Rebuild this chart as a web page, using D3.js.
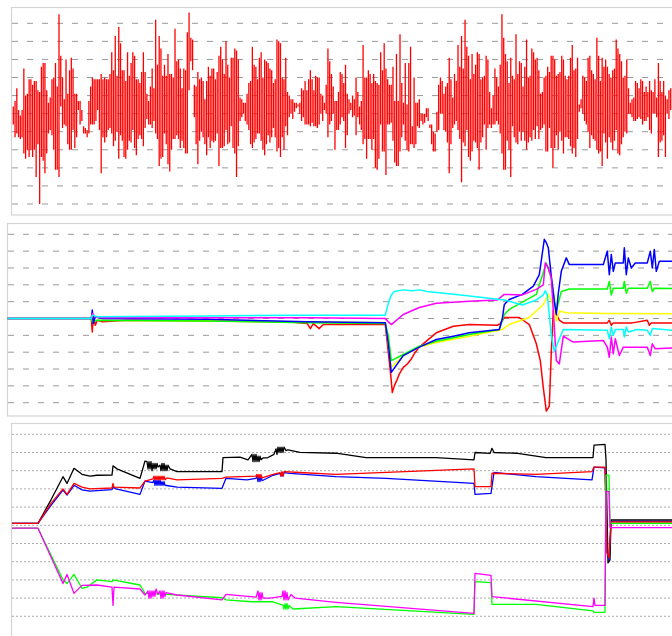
<!DOCTYPE html>
<html><head><meta charset="utf-8">
<script src="https://cdn.jsdelivr.net/npm/d3@7"></script>
<style>body{margin:0;background:#fff;overflow:hidden}</style>
</head><body>
<script>
// ---------- DATA ----------
const gridLevels = [-50,-40,-30,-20,-10,0,10,20,30,40,50];

// Panel 1: waveform, per-sample high / low
const waveHigh = [
4,7,14,2,-1,2,25,10,11,19,19,16,18,18,13,12,26,28,28,13,6,9,19,20,28,15,55,32,20,8,30,11,24,31,25,11,11,7,7,2,-7,-8,-9,7,15,20,19,19,19,19,22,19,20,19,19,22,34,24,43,21,48,39,
24,24,18,34,21,28,34,32,19,19,17,23,34,23,11,7,15,25,14,52,27,43,36,21,27,21,33,22,22,20,47,29,30,25,14,25,24,45,56,42,41,16,15,23,19,20,18,8,18,26,21,25,25,19,23,32,37,30,22,40,27,20,
31,31,36,35,30,9,8,6,6,11,17,18,37,27,26,19,31,34,20,30,29,28,25,24,17,19,41,40,39,20,19,31,12,10,8,8,6,6,5,6,14,13,18,13,19,24,19,13,21,20,20,11,10,6,16,36,29,22,15,7,7,12,23,22,
17,27,11,8,6,10,8,20,12,4,7,38,20,20,24,22,17,22,18,17,16,34,24,39,25,19,16,16,26,7,33,7,44,17,6,28,5,28,37,-7,20,6,6,8,0,0,0,3,3,-6,-6,-10,-11,1,16,20,18,11,15,17,31,19,
9,22,18,38,26,43,25,52,37,32,19,33,22,27,34,33,19,20,21,32,30,12,3,10,25,20,15,27,55,42,33,29,17,31,21,19,44,22,29,28,15,26,41,20,21,36,34,30,31,24,11,12,20,21,26,23,32,32,30,21,22,23,
32,30,21,19,21,31,38,24,25,31,5,8,21,20,18,31,32,24,22,19,42,32,18,31,26,30,26,22,20,24,25,41,36,33,29,20,21,30,14,6,8,9,18,17,14,19,18,12,15,12,18,13,12,19,9,28,18,12,18,10,8,13,14];
const waveLow = [
-6,-13,-11,-13,-14,-13,-22,-25,-20,-24,-20,-24,-20,-35,-17,-50,-24,-26,-33,-22,-11,-9,-12,-20,-31,-31,-35,4,-8,-6,-7,-17,-20,-20,-9,-19,-13,2,-6,-4,-11,-11,-13,-11,-6,-6,-6,-4,2,-9,-33,-13,-16,-13,-9,-8,-11,-18,-15,-10,-25,-12,
-15,-24,-25,-20,-15,-16,-9,-19,-23,-14,-12,-14,-18,-8,-3,-6,-6,-8,-4,-11,-14,-29,-25,-24,-11,-17,-28,-32,-20,-14,-14,-12,-14,-19,-15,-19,-22,-22,13,29,24,-2,-17,-28,-15,-10,-13,-17,-23,-13,-19,-15,-16,-15,-11,-29,-19,-19,-18,-9,-17,-16,
-7,-19,-22,-35,-18,-4,-2,0,-4,-6,-9,-17,-19,-16,-14,-11,-11,-15,-20,-23,-17,-12,-16,-13,-8,-13,-21,-19,-24,-13,-20,-7,-12,-2,0,-3,1,3,4,0,-4,-2,-6,-6,-6,-7,-5,-7,-7,-8,-6,0,-4,2,0,-13,-6,-4,0,-20,-9,-9,-6,-2,
-4,-19,-12,0,2,-2,-1,-12,-2,-6,-9,-17,-14,-25,-14,-14,-20,-14,-30,-31,-25,-6,-21,-21,-34,-6,-6,-5,-15,-27,-29,-29,-21,-13,-6,-15,-20,-21,-17,-17,-19,-17,-7,-8,-4,-6,-5,-2,-4,-8,-17,-21,-21,-10,-9,0,0,-9,-10,-16,-33,-17,
-8,-6,-4,-9,-14,-38,-16,-18,-9,-24,-26,-21,-15,-16,-19,-31,-16,-13,-6,-20,-8,-6,-8,-6,-6,-4,-6,-11,-22,-31,-31,-15,-20,-35,-7,-13,-16,-17,-10,-15,-10,-15,-20,-16,-13,-15,-9,-14,-7,-14,-9,-8,-6,-21,-21,-8,-19,-30,-19,-12,-20,-10,
-15,-22,-13,-13,-14,-18,-22,-19,-24,-14,1,3,0,-4,-6,-10,-19,-12,-14,-15,-20,-22,-21,-29,-11,-16,-25,-13,-16,-20,-15,-9,-22,-23,-17,-13,-10,-11,0,0,-2,-4,-4,-3,-2,-3,-6,-4,-4,-2,-9,-11,0,0,-2,-24,-16,-15,-12,-24,0,-3,2];

// Panel 2: six series, [sample, value]
const p2Red = [[0,0],[84,0],[85,-8],[86,2],[88,-4],[90,-1],[95,-2],[120,-1],[200,-1.5],[280,-2],[300,-3],[303,-6],[306,-3],[312,-6],[316,-3.5],[330,-3.5],[378,-3.6],[381,-20],[384,-37],[385,-44],[387,-40],[390,-36],[392,-33],[394,-31],[396,-29],[400,-27],[404,-24],[408,-20],[412,-17],[420,-13],[429,-8.5],[446,-4.6],[462,-3.6],[490,-4],[493,-3],[497,0.6],[512,0.6],[522,-3.6],[529,-15],[533,-25],[536,-41],[539,-55],[542,-52],[544,-20],[546,5],[549,3],[552,-1],[556,-2.6],[600,-2.6],[602,-1],[604,-4],[606,-2.6],[625,-2.6],[640,-1],[642,-4],[644,-2.6],[665,-2.6]];
const p2Blue = [[0,0],[84,0],[85,5],[86,-3],[88,1],[95,0],[200,-0.5],[300,-2],[378,-2.5],[381,-15],[384,-32],[396,-22],[412,-17],[429,-12.5],[446,-10.5],[462,-8.5],[492,-6.5],[495,0],[497,8.3],[502,11.3],[515,14.3],[526,19.2],[532,26],[537,47],[539,45],[541,42],[544,25],[547,10],[549,2.4],[551,15],[554,28],[559,36],[562,32],[596,32],[600,40],[602,26],[604,38],[606,28],[608,33],[616,33],[617,42],[619,26],[621,36],[624,30],[628,33],[640,33],[643,40],[645,30],[647,41],[649,28],[652,34],[665,34]];
const p2Green = [[0,0],[84,0],[85,-2],[90,-1],[200,-1.5],[300,-2.5],[378,-3],[381,-10],[384,-25],[396,-21.4],[412,-16.5],[429,-13.5],[462,-9.5],[492,-6.5],[497,2.4],[502,5.4],[529,14.3],[539,33],[544,24],[549,4.4],[554,16],[562,17.5],[600,17.5],[602,22],[604,14],[606,18],[616,18],[617,22],[619,15],[621,18],[640,18],[643,22],[645,16],[647,18],[665,17.8]];
const p2Yellow = [[0,0],[84,0],[85,-1],[200,-1.5],[300,-2],[378,-2.5],[381,-15],[384,-29],[396,-22],[412,-17],[429,-14.3],[462,-10.5],[495,-6.5],[502,-3.6],[522,0.6],[536,8.3],[541,14.3],[546,8],[549,-1.6],[552,4.4],[559,3.4],[600,3],[665,2.8]];
const p2Cyan = [[0,0],[84,0],[85,2],[90,1],[200,1.5],[300,2],[378,2],[381,9],[384,14],[387,16],[396,17],[405,16.5],[412,17],[420,16],[460,13.5],[497,11],[515,8],[529,11],[536,14],[538,16.5],[540,14],[544,-10],[547,-19.5],[550,-15],[556,-6.5],[600,-7],[602,-12],[604,-5],[606,-10],[608,-6.5],[616,-6.5],[617,-11],[619,-5],[621,-8],[630,-6.5],[640,-7],[643,-10],[645,-6],[665,-7]];
const p2Magenta = [[0,0],[84,0],[85,3],[88,1],[95,0.5],[300,0.5],[378,0],[381,-2],[384,-3.6],[396,2.4],[412,6.5],[429,9],[462,10.3],[490,11],[497,14.3],[515,14],[529,17.3],[536,20],[538,33],[541,30],[544,24],[547,-5],[549,-25],[552,-27],[556,-10.5],[560,-12],[566,-14],[596,-13],[600,-17],[602,-23],[604,-11],[606,-21],[608,-12],[612,-22],[616,-17],[640,-17],[643,-22],[645,-15],[648,-18],[665,-17.5]];

// Panel 3: five series, [sample, value]
const p3Black = [[0,1.1],[26,1.1],[39,14],[51,26.7],[55,23],[62,31.3],[70,28],[78,27],[85,27.5],[100,27.6],[101,32.7],[105,31],[128,25.8],[133,35.3],[135,35],[136,31],[137,35],[138,31],[139,35],[140,30],[141,34],[142,31],[143,34],[144,31],[145,34],[146,32],[148,33],[149,30],[150,34],[151,30],[152,34],[153,30],[154,33],[155,30],[156,33],[158,31],[165,29.5],[210,29.5],[211,37.2],[228,37.5],[236,36],[240,39],[241,35],[242,39],[243,35],[244,39],[245,35],[246,38],[247,35],[248,38],[249,36],[251,37],[255,37],[262,39],[264,42],[265,39],[266,43],[267,40],[268,43],[269,40],[270,43],[271,40],[272,43],[274,41],[276,41.5],[288,40.1],[324,39.6],[354,37.2],[424,37.2],[462,36],[463,40],[478,39.5],[480,42.3],[482,40],[504,39.6],[534,37.2],[581,37.2],[582,44],[593,44.5],[594,36],[596,-20.7],[598,-19],[599,2.9],[660,2.9]];
const p3Red = [[0,1.1],[26,1.1],[39,12],[51,20],[55,17],[62,23],[70,21],[78,20],[100,20.5],[101,23],[102,21],[128,20.5],[133,24.3],[141,25.5],[142,27],[143,25],[144,27],[145,25],[146,27],[147,25],[148,27],[149,25],[150,27],[151,25],[152,27],[153,25],[155,26],[165,25],[210,25.8],[214,26.5],[244,27],[245,28],[246,26],[247,28],[248,26],[249,28],[250,26],[261,28],[268,29],[269,27],[270,29.5],[271,27],[272,29.5],[288,29],[324,28],[462,31],[463,21.2],[479,21.2],[480,28.6],[524,28],[580,29.5],[582,32],[593,32],[595,-15],[597,-18],[599,1.8],[660,1.8]];
const p3Blue = [[0,1.1],[26,1.1],[39,11],[51,19.4],[55,16.6],[62,22],[70,19.5],[78,18.8],[100,19.6],[101,21],[104,20],[128,17],[133,24.3],[141,23.5],[142,25],[143,22],[144,25],[145,22],[146,25],[147,22],[148,25],[149,22],[150,24],[151,22],[152,24],[153,22],[165,21],[210,20.3],[214,25.8],[235,25],[244,25.8],[245,27],[246,24],[247,27],[248,24],[249,27],[250,24.5],[261,27.5],[268,28.5],[269,27],[270,29],[271,27],[272,29],[278,28.5],[324,26.7],[374,25.8],[462,23],[463,17],[479,17.5],[482,29],[524,26.7],[580,25],[582,32],[593,31.5],[595,-15],[597,-19],[599,2.2],[660,2.2]];
const p3Green = [[0,-1.6],[26,-1.6],[51,-30],[55,-32],[62,-27],[70,-34.6],[75,-34],[85,-30],[100,-31],[101,-30],[128,-32.8],[133,-37.4],[155,-38],[210,-39.8],[214,-41],[240,-42],[260,-42],[271,-43.8],[272,-46],[273,-43],[274,-46],[275,-43],[276,-46],[277,-44],[281,-46],[324,-44.7],[462,-48.9],[463,-31],[479,-31.5],[480,-43.4],[524,-43.4],[581,-47],[582,-47.8],[593,-47.8],[594,27.6],[597,27.6],[598,1.1],[660,1.1]];
const p3Magenta = [[0,-1.6],[26,-1.6],[51,-32],[55,-27],[62,-37.4],[70,-33],[85,-32.8],[100,-34],[101,-44],[102,-34],[128,-35],[133,-38.3],[136,-36],[137,-40],[138,-36],[139,-40],[140,-36],[141,-39],[142,-36],[143,-39],[144,-35],[146,-38],[148,-36],[149,-40],[150,-36],[151,-40],[152,-36],[153,-39],[154,-37],[165,-38.3],[210,-41],[214,-38],[244,-39.5],[246,-36],[247,-41],[248,-37],[249,-41],[250,-37],[251,-40],[258,-40],[270,-39],[271,-36],[272,-41],[273,-36],[274,-41],[275,-37],[276,-41],[279,-38],[283,-40],[324,-42.3],[462,-48.4],[463,-26.4],[479,-27.5],[480,-39.2],[581,-44.7],[582,-40],[583,-44],[593,-44],[594,18.5],[597,18.5],[598,-1.3],[660,-1.3]];

// ---------- DRAW ----------
const W = 672, H = 636;
const svg = d3.select("body").append("svg").attr("width", W).attr("height", H)
  .style("display","block").style("background","#fff");

function makePanel(id, left, top, bottom, gridTop, gridBottom, dash, gridColor) {
  const g = svg.append("g");
  svg.append("clipPath").attr("id", id).append("rect")
    .attr("x", left).attr("y", top).attr("width", W - left + 10).attr("height", bottom - top);
  const y = d3.scaleLinear().domain([-50, 50]).range([gridBottom, gridTop]);
  g.append("g").selectAll("line").data(gridLevels).join("line")
    .attr("x1", left + 0.5).attr("x2", W + 10)
    .attr("y1", d => y(d)).attr("y2", d => y(d))
    .attr("stroke", gridColor).attr("stroke-width", 1).attr("stroke-dasharray", dash);
  g.append("rect").attr("x", left).attr("y", top).attr("width", W - left + 20).attr("height", bottom - top)
    .attr("fill", "none").attr("stroke", "#d4d4d4").attr("stroke-width", 1.2);
  const plot = g.append("g").attr("clip-path", `url(#${id})`);
  return {y, plot};
}

// Panel 1
const P1 = makePanel("c1", 11.5, 7.5, 215, 23.3, 204, "6,9", "#999");
const x1 = d3.scaleLinear().domain([0, waveHigh.length - 1]).range([13.3, 670.7]);
P1.plot.selectAll("line").data(waveHigh).join("line")
  .attr("x1", (d, i) => x1(i)).attr("x2", (d, i) => x1(i))
  .attr("y1", d => P1.y(d)).attr("y2", (d, i) => P1.y(waveLow[i]))
  .attr("stroke", "#ff0000").attr("stroke-width", 1.3);

// Panel 2
const P2 = makePanel("c2", 7.5, 223.5, 416, 234.3, 402.7, "6,9", "#999");
const x2 = d3.scaleLinear().domain([0, 665]).range([7.3, 672.3]);
const line2 = d3.line().x(d => x2(d[0])).y(d => P2.y(d[1]));
[[p2Red,"#ff0000"],[p2Yellow,"#ffff00"],[p2Green,"#00ff00"],[p2Blue,"#0000ff"],[p2Magenta,"#ff00ff"],[p2Cyan,"#00ffff"]]
  .forEach(([s, c]) => P2.plot.append("path").datum(s).attr("d", line2)
    .attr("fill", "none").attr("stroke", c).attr("stroke-width", 1.5).attr("stroke-linejoin","round"));

// Panel 3
const P3 = makePanel("c3", 11.5, 423.5, 660, 434.3, 616.3, "2,2", "#aaa");
const x3 = d3.scaleLinear().domain([0, 660]).range([12, 672]);
const line3 = d3.line().x(d => x3(d[0])).y(d => P3.y(d[1]));
[[p3Black,"#000000"],[p3Blue,"#0000ff"],[p3Red,"#ff0000"],[p3Green,"#00ff00"],[p3Magenta,"#ff00ff"]]
  .forEach(([s, c]) => P3.plot.append("path").datum(s).attr("d", line3)
    .attr("fill", "none").attr("stroke", c).attr("stroke-width", 1.3).attr("stroke-linejoin","round"));
</script>
</body></html>
